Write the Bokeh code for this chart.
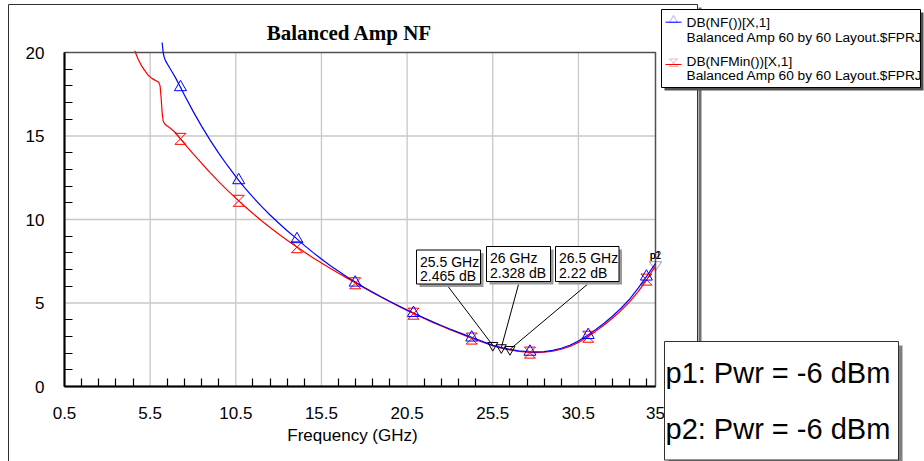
from bokeh.plotting import figure
from bokeh.models import (FixedTicker, Label, BoxAnnotation, Arrow,
                          PolyAnnotation, Range1d, LinearAxis)
from bokeh.embed import file_html
from bokeh.resources import INLINE

# ---- noise figure sweeps (GHz, dB) ----
nf_freq = [6.2, 6.26, 6.32, 6.4, 6.6, 6.8, 7.0, 7.27, 7.5, 8.0, 8.5, 9.0, 9.5,
           10.0, 10.5, 10.67, 11.0, 11.5, 12.0, 12.5, 13.0, 13.5, 14.0, 14.5,
           15.0, 15.5, 16.0, 16.5, 17.0, 17.5, 18.0, 18.5, 19.0, 19.5, 20.0,
           20.5, 21.0, 21.5, 22.0, 22.5, 23.0, 23.5, 24.0, 24.5, 25.0, 25.5,
           26.0, 26.5, 27.0, 27.5, 28.0, 28.5, 29.0, 29.5, 30.0, 30.5, 31.0,
           31.5, 32.0, 32.5, 33.0, 33.5, 34.0, 34.5, 35.0]
nf_db = [20.6, 20.0, 19.72, 19.5, 19.15, 18.8, 18.45, 17.92, 17.45, 16.49,
         15.59, 14.75, 13.97, 13.25, 12.57, 12.35, 11.93, 11.34, 10.79, 10.27,
         9.79, 9.33, 8.9, 8.45, 8.03, 7.63, 7.25, 6.9, 6.56, 6.24, 5.93, 5.64,
         5.36, 5.09, 4.83, 4.58, 4.34, 4.1, 3.87, 3.65, 3.44, 3.24, 3.05, 2.86,
         2.66, 2.465, 2.328, 2.22, 2.14, 2.09, 2.07, 2.09, 2.16, 2.29, 2.47,
         2.72, 3.04, 3.4, 3.79, 4.22, 4.7, 5.24, 5.9, 6.62, 7.38]

nfmin_freq = [4.6, 4.8, 5.0, 5.2, 5.4, 5.6, 5.8, 6.0, 6.08, 6.14, 6.2, 6.26,
              6.35, 6.5, 6.7, 7.0, 7.27, 7.5, 8.0, 8.5, 9.0, 9.5, 10.0, 10.5,
              10.67, 11.0, 11.5, 12.0, 12.5, 13.0, 13.5, 14.0, 14.5, 15.0, 15.5,
              16.0, 16.5, 17.0, 17.5, 18.0, 18.5, 19.0, 19.5, 20.0, 20.5, 21.0,
              21.5, 22.0, 22.5, 23.0, 23.5, 24.0, 24.5, 25.0, 25.5, 26.0, 26.5,
              27.0, 27.5, 28.0, 28.5, 29.0, 29.5, 30.0, 30.5, 31.0, 31.5, 32.0,
              32.5, 33.0, 33.5, 34.0, 34.5, 35.0]
nfmin_db = [20.1, 19.6, 19.2, 18.9, 18.62, 18.45, 18.33, 18.22, 18.0, 17.3,
            16.4, 15.9, 15.72, 15.6, 15.45, 15.18, 14.83, 14.55, 13.95, 13.37,
            12.81, 12.27, 11.76, 11.28, 11.12, 10.81, 10.36, 9.93, 9.52, 9.13,
            8.76, 8.4, 8.05, 7.71, 7.39, 7.08, 6.78, 6.49, 6.2, 5.9, 5.62, 5.34,
            5.07, 4.81, 4.56, 4.31, 4.08, 3.84, 3.62, 3.4, 3.2, 3.0, 2.81, 2.62,
            2.44, 2.3, 2.19, 2.1, 2.05, 2.03, 2.05, 2.11, 2.23, 2.4, 2.64, 2.95,
            3.3, 3.68, 4.1, 4.56, 5.08, 5.7, 6.42, 7.22]

# trace symbols
sym_freq = [7.27, 10.67, 14.07, 17.47, 20.87, 24.27, 27.67, 31.07, 34.47]
nf_sym_db = [17.92, 12.35, 8.82, 6.22, 4.4, 2.93, 2.08, 3.08, 6.58]
nfmin_sym_db = [14.83, 11.12, 8.34, 6.18, 4.36, 2.87, 2.03, 2.98, 6.4]

# marker readouts
mk_freq = [25.5, 26.0, 26.5]
mk_db = [2.465, 2.328, 2.22]
mk_freq_text = ["25.5 GHz", "26 GHz", "26.5 GHz"]
mk_db_text = ["2.465 dB", "2.328 dB", "2.22 dB"]

# swept-parameter marker at the band edge
pwr_freq = 35.0
pwr_db = 7.38
pwr_text = ["p1: Pwr = -6 dBm", "p2: Pwr = -6 dBm"]

legend_names = ["DB(NF())[X,1]", "DB(NFMin())[X,1]"]
legend_source = "Balanced Amp 60 by 60 Layout.$FPRJ"

x_ticks = [0.5, 5.5, 10.5, 15.5, 20.5, 25.5, 30.5, 35]
x_tick_labels = ["0.5", "5.5", "10.5", "15.5", "20.5", "25.5", "30.5", "35"]
y_ticks = [0, 5, 10, 15, 20]
y_tick_labels = ["0", "5", "10", "15", "20"]

BLUE = "#0000FF"
RED = "#FF0000"
FONT = "Liberation Sans"

W, H = 924, 461
# where the graph area sits on the page (px)
GL, GT, GR, GB = 64, 52, 655, 386
X0, X1 = x_ticks[0], x_ticks[-1]
Y0, Y1 = y_ticks[0], y_ticks[-1]
kx = (GR - GL) / (X1 - X0)
ky = (GB - GT) / (Y1 - Y0)

# the frame spans the whole page; axes are pinned to the graph corner
p = figure(width=W, height=H,
           x_range=Range1d(X0 - GL / kx, X1 + (W - GR) / kx),
           y_range=Range1d(Y0 - (H - GB) / ky, Y1 + GT / ky),
           x_axis_type=None, y_axis_type=None,
           output_backend="svg", toolbar_location=None)
p.min_border = 0
p.background_fill_color = "white"
p.border_fill_color = "white"
p.outline_line_color = None


def sx(px):
    return px


def sy(py):
    return H - py


def shifted(py, size):
    # raise alphabetic text so that its baseline lands on py
    return sy(py) + 0.39 * size


# graph grid and frame
x_minor = [t + 0.5 for t in range(1, 35) if (t + 0.5) not in x_ticks]
y_minor = [t for t in range(1, 20) if t not in y_ticks]
p.segment(x0=x_ticks[1:-1], y0=Y0, x1=x_ticks[1:-1], y1=Y1,
          line_color="#c8c8c8", line_width=1.3, level="underlay")
p.segment(x0=X0, y0=y_ticks[1:-1], x1=X1, y1=y_ticks[1:-1],
          line_color="#c8c8c8", line_width=1.3, level="underlay")
p.add_layout(BoxAnnotation(left=X0, right=X1, bottom=Y0, top=Y1,
                           fill_alpha=0, line_color="#505050", line_alpha=1,
                           line_width=1.5, level="underlay"))

xaxis = LinearAxis(fixed_location=Y0, bounds=(X0, X1),
                   ticker=FixedTicker(ticks=x_ticks, minor_ticks=x_minor),
                   major_label_overrides=dict(zip(x_ticks, x_tick_labels)))
yaxis = LinearAxis(fixed_location=X0, bounds=(Y0, Y1),
                   ticker=FixedTicker(ticks=y_ticks, minor_ticks=y_minor),
                   major_label_overrides=dict(zip(y_ticks, y_tick_labels)))
for ax in (xaxis, yaxis):
    ax.axis_line_color = "black"
    ax.axis_line_width = 2
    ax.major_tick_in = 0
    ax.major_tick_out = 0
    ax.minor_tick_in = 8
    ax.minor_tick_out = 0
    ax.minor_tick_line_color = "black"
    ax.minor_tick_line_width = 1.2
    ax.major_label_text_font = FONT
    ax.major_label_text_font_size = "17px"
    ax.major_label_text_color = "black"
xaxis.major_label_standoff = 20
yaxis.major_label_standoff = 20
p.add_layout(xaxis, "below")
p.add_layout(yaxis, "left")

# ---- traces ----
p.line(nfmin_freq, nfmin_db, line_color=RED, line_width=1.2)
p.line(nf_freq, nf_db, line_color=BLUE, line_width=1.2)

# hourglass symbols for NFMin
hx, hy = 0.32, 0.33
hg_xs = [[f - hx, f + hx, f - hx, f + hx, f - hx] for f in sym_freq]
hg_ys = [[v + hy, v + hy, v - hy, v - hy, v + hy] for v in nfmin_sym_db]
p.multi_line(hg_xs, hg_ys, line_color=RED, line_width=1)
p.scatter(sym_freq, nf_sym_db, marker="triangle", size=12,
          fill_color=None, line_color=BLUE, line_width=1)

# ---- marker readouts ----
p.scatter(mk_freq, mk_db, marker="inverted_triangle", size=10,
          fill_color=None, line_color="black", line_width=1)


def page_box(l, t, r, b, fill=None, line=None, lw=1, level="annotation"):
    p.add_layout(BoxAnnotation(left=sx(l), right=sx(r), top=sy(t), bottom=sy(b),
                               left_units="screen", right_units="screen",
                               top_units="screen", bottom_units="screen",
                               fill_color=fill, fill_alpha=1 if fill else 0,
                               line_color=line, line_alpha=1 if line else 0,
                               line_width=lw, level=level))


def page_text(px, py, txt, size, align="left", font=FONT, style="normal"):
    p.add_layout(Label(x=sx(px), y=shifted(py, size), x_units="screen",
                       y_units="screen", text=txt, text_font=font,
                       text_font_size=f"{size}px", text_font_style=style,
                       text_align=align, text_baseline="alphabetic",
                       text_color="black", level="overlay"))


boxes = [(416, 249.5, 480, 283.5), (486, 246, 550, 281), (555, 246, 618.5, 281)]
baselines = [(266.5, 280.5), (263.3, 278), (263.3, 278)]
for (l, t, r, b), (b1, b2), f, v, ft, vt in zip(boxes, baselines, mk_freq, mk_db,
                                                 mk_freq_text, mk_db_text):
    p.add_layout(Arrow(x_start=sx((l + r) / 2), y_start=sy(b + 3),
                       start_units="screen", x_end=f, y_end=v, end_units="data",
                       end=None, line_color="black", line_width=1))
    page_box(l + 3, t + 3, r + 3, b + 3, fill="#9a9a9a")
    page_box(l, t, r, b, fill="white", line="black")
    page_text(l + 3.5, b1, ft, 14)
    page_text(l + 3.5, b2, vt, 14)

# swept-parameter marker at the band edge
p.add_layout(PolyAnnotation(xs=[pwr_freq - 0.36, pwr_freq + 0.36, pwr_freq],
                            ys=[pwr_db + 0.1, pwr_db + 0.1, pwr_db - 0.45],
                            fill_alpha=0, line_color="black", line_width=1.2))
for tag in ("p1", "p2"):
    p.add_layout(Label(x=pwr_freq, y=pwr_db, y_offset=4 + 0.39 * 10, text=tag,
                       text_font=FONT, text_font_size="10px",
                       text_align="center", text_baseline="alphabetic",
                       text_color="black"))

# ---- page decorations ----
# outer graph frame
page_box(8, 4, 697, 490, line="#303030", lw=1, level="underlay")
page_box(698, 7, 701, 490, fill="#707070", level="underlay")

page_text(349, 41, "Balanced Amp NF", 21, align="center",
          font="Liberation Serif", style="bold")
page_text(352, 441.5, "Frequency (GHz)", 17, align="center")

# legend
page_box(664, 12, 923, 90, fill="#505050")
page_box(661, 9, 920, 87, fill="white", line="black")
for (ly, col) in ((21.7, BLUE), (64, RED)):
    p.add_layout(Arrow(x_start=sx(665), y_start=sy(ly), x_end=sx(681), y_end=sy(ly),
                       start_units="screen", end_units="screen", end=None,
                       line_color=col, line_width=1, level="overlay"))
p.add_layout(PolyAnnotation(xs=[sx(669), sx(677), sx(673)],
                            ys=[sy(22), sy(22), sy(15)],
                            xs_units="screen", ys_units="screen",
                            fill_alpha=0, line_color=BLUE, line_width=1,
                            level="overlay"))
p.add_layout(PolyAnnotation(xs=[sx(669), sx(677), sx(669), sx(677)],
                            ys=[sy(58.5), sy(58.5), sy(66), sy(66)],
                            xs_units="screen", ys_units="screen",
                            fill_alpha=0, line_color=RED, line_width=1,
                            level="overlay"))
for name, y1, y2 in zip(legend_names, (27.8, 66.5), (42.3, 80.8)):
    page_text(686, y1, name, 13.7)
    page_text(686, y2, legend_source, 13.7)

# swept-parameter box
page_box(668, 345, 902, 463, fill="#808080")
page_box(664, 341, 898, 459.5, fill="white", line="#303030")
page_text(665, 384, pwr_text[0], 29)
page_text(665, 440, pwr_text[1], 29)

open("out.html", "w").write(file_html(p, INLINE))
